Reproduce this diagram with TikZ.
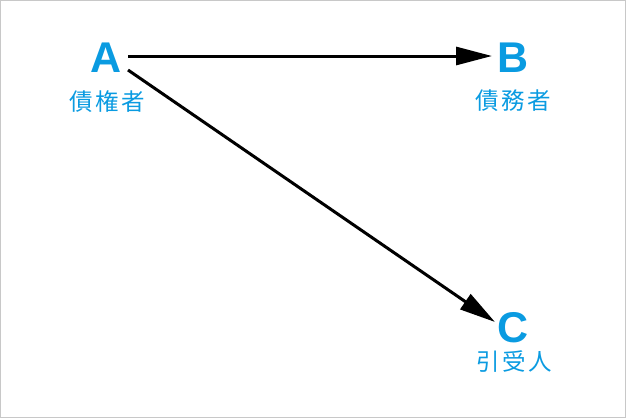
\documentclass[tikz,border=0pt]{standalone}
\usepackage{fontspec}
\setmainfont{Liberation Sans}
\newfontfamily\cjk[LetterSpace=10]{Noto Sans CJK JP}
\usetikzlibrary{arrows.meta}
\definecolor{bluetxt}{RGB}{10,155,225}
\definecolor{framegray}{RGB}{200,200,200}
\tikzset{
  letter/.style={text=bluetxt,font=\fontsize{43}{43}\selectfont\bfseries,inner sep=0pt,anchor=center},
  role/.style={text=bluetxt,font=\fontsize{23.5}{23.5}\selectfont\cjk,inner sep=0pt,anchor=center},
  link/.style={line width=3pt,-{Triangle[length=36pt,width=18pt]}}
}
\begin{document}
\begin{tikzpicture}[x=1pt,y=-1pt]
\useasboundingbox (0,0) rectangle (626,418);
\draw[framegray,line width=1pt] (0.5,0.5) rectangle (625.5,417.5);
\node[letter] (A) at (106,58) {A};
\node[letter] (B) at (513,58) {B};
\node[letter] (C) at (513,328) {C};
\node[role] (a) at (107,102) {債権者};
\node[role] (b) at (513,101) {債務者};
\node[role] (c) at (514,362) {引受人};
\coordinate (As) at (128,56);
\coordinate (Bt) at (492,56);
\coordinate (As2) at (128,70);
\coordinate (Ct) at (495,322);
\draw[link] (As) -- (Bt);
\draw[link] (As2) -- (Ct);
\end{tikzpicture}
\end{document}
